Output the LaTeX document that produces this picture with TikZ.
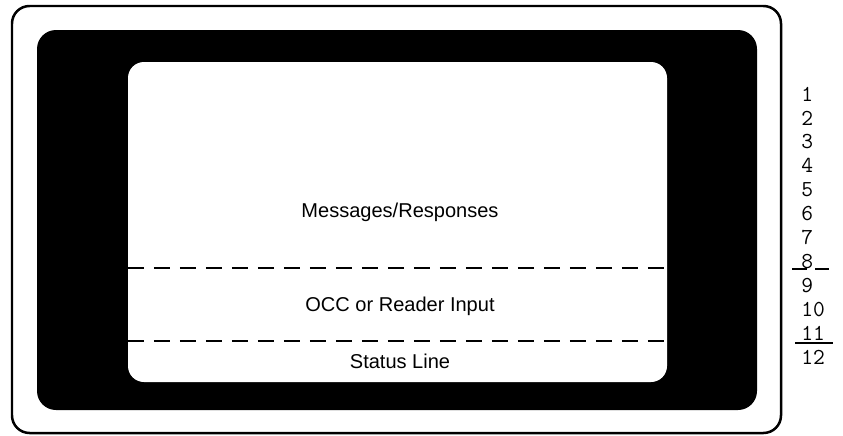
\documentclass[tikz,border=0pt]{standalone}
\usepackage{fontspec}
\newfontfamily\panelfont{Liberation Sans}
\usetikzlibrary{calc}

\tikzset{
    areatext/.style={font=\panelfont\fontsize{11.4}{13}\selectfont, inner sep=0pt},
    rowno/.style={font=\ttfamily\fontsize{13}{15}\selectfont, anchor=west, inner sep=0pt},
    rowsplit/.style={line width=0.04cm, dash pattern=on 0.32cm off 0.2cm},
}

\begin{document}
\begin{tikzpicture}[x=0.02cm, y=-0.02cm]

    \useasboundingbox (0,0) rectangle (843,436);

    % --- Bezel ---
    \draw[line width=0.05cm, rounded corners=0.35cm] (12,6) rectangle (781,433);
    \fill[black, rounded corners=0.38cm] (37,30) rectangle (757,410);

    % --- Screen ---
    \fill[white, rounded corners=0.32cm] (128,62) rectangle (667,382);

    % Area borders
    \coordinate (splitAl) at (128,268);
    \coordinate (splitAr) at (667,268);
    \coordinate (splitBl) at (128,341);
    \coordinate (splitBr) at (667,341);
    \draw[rowsplit] (splitAl) -- (splitAr);
    \draw[rowsplit] (splitBl) -- (splitBr);

    % --- Areas ---
    \node[areatext] (msg) at (400,212) {Messages/Responses};
    \node[areatext] (occ) at (400,306) {OCC or Reader Input};
    \node[areatext] (status) at (400,361) {Status Line};

    % --- Line numbers ---
    \foreach \n in {1,...,12}
        \node[rowno] (row\n) at (801,{94+23.9*(\n-1)}) {\n};

    % marks at rows 8 and 11
    \draw[line width=0.03cm] (792,269) -- (807,269);
    \draw[line width=0.03cm] (815,269) -- (829,269);
    \draw[line width=0.03cm] (795,343) -- (833,343);

\end{tikzpicture}
\end{document}
